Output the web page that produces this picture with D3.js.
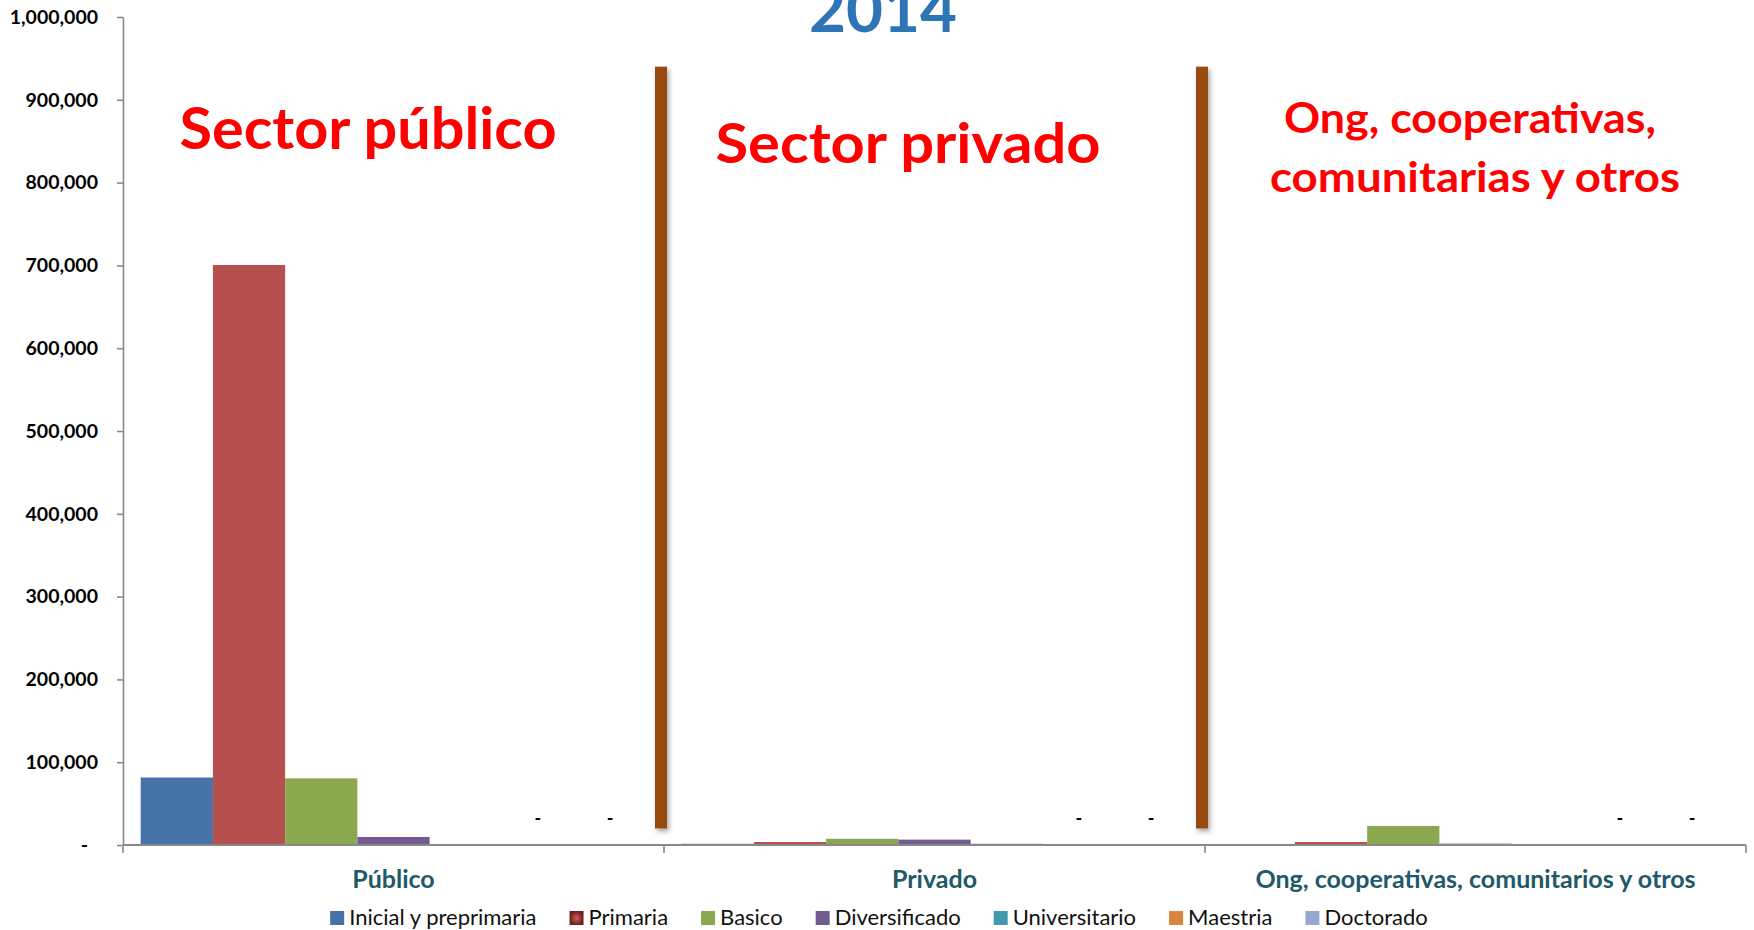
<!DOCTYPE html>
<html>
<head>
<meta charset="utf-8">
<script src="https://cdn.jsdelivr.net/npm/d3@7"></script>
<style>
  body { margin: 0; background: #fff; }
  text { font-family: Lato, "Liberation Sans", sans-serif; }
</style>
</head>
<body>
<script>
// chart data
var categories = ["Público", "Privado", "Ong, cooperativas, comunitarios y otros"];
var series = ["Inicial y preprimaria", "Primaria", "Basico", "Diversificado", "Universitario", "Maestria", "Doctorado"];
var colors = ["#4572A7", "#B5504F", "#8BA74F", "#725A93", "#4198AF", "#DB843D", "#93A9CF"];

// one array per series, one value per category (null = no value shown)
var inicial       = [81500, 1500, null];
var primaria      = [700500, 3600, 3600];
var basico        = [80500, 7500, 23000];
var diversificado = [9700, 6500, 1600];
var universitario = [null, 1500, null];
var maestria      = [0, 0, 0];
var doctorado     = [0, 0, 0];
var values = [inicial, primaria, basico, diversificado, universitario, maestria, doctorado];

var yTicks = [0, 100000, 200000, 300000, 400000, 500000, 600000, 700000, 800000, 900000, 1000000];

var W = 1754, H = 930;
var margin = {top: 17, right: 8, bottom: 85, left: 123};

var svg = d3.select("body").append("svg")
    .attr("width", W)
    .attr("height", H);

svg.append("rect").attr("width", W).attr("height", H).attr("fill", "#fff");

var defs = svg.append("defs");
var shadow = defs.append("filter").attr("id", "shadow")
    .attr("x", "-100%").attr("y", "-5%").attr("width", "300%").attr("height", "110%");
shadow.append("feDropShadow")
    .attr("dx", 2).attr("dy", 3).attr("stdDeviation", 2.5)
    .attr("flood-color", "#000").attr("flood-opacity", 0.35);

var grad = defs.append("radialGradient").attr("id", "primGrad");
grad.append("stop").attr("offset", "0%").attr("stop-color", "#D0605C");
grad.append("stop").attr("offset", "100%").attr("stop-color", "#6E1E1C");

// scales
var x0 = d3.scaleBand().domain(categories).range([margin.left, W - margin.right]);
var x1 = d3.scaleBand().domain(series).range([0, x0.bandwidth()]).paddingOuter(0.245);
var y = d3.scaleLinear().domain([0, 1000000]).range([H - margin.bottom, margin.top]);

// flatten data
var cells = [];
categories.forEach(function(c, i) {
  series.forEach(function(s, j) {
    cells.push({cat: c, ser: s, color: colors[j], v: values[j][i]});
  });
});

// bars
svg.append("g").selectAll("rect")
  .data(cells.filter(function(d) { return d.v; }))
  .enter().append("rect")
    .attr("x", function(d) { return x0(d.cat) + x1(d.ser); })
    .attr("y", function(d) { return y(d.v); })
    .attr("width", x1.bandwidth())
    .attr("height", function(d) { return y(0) - y(d.v); })
    .attr("fill", function(d) { return d.color; });

// "-" labels for zero values
svg.append("g").selectAll("text")
  .data(cells.filter(function(d) { return d.v === 0; }))
  .enter().append("text")
    .attr("x", function(d) { return x0(d.cat) + x1(d.ser) + x1.bandwidth() / 2; })
    .attr("y", y(0) - 27)
    .attr("text-anchor", "middle")
    .attr("dominant-baseline", "central")
    .style("font-size", "18px")
    .style("font-weight", "bold")
    .text("-");

// y axis
var yAxis = svg.append("g")
    .attr("transform", "translate(" + margin.left + ",0)")
    .call(d3.axisLeft(y)
      .tickValues(yTicks)
      .tickSize(6)
      .tickSizeOuter(0)
      .tickPadding(19)
      .tickFormat(function(d) { return d === 0 ? "-" : d3.format(",")(d); }));
yAxis.selectAll("line, path").attr("stroke", "#898989").attr("stroke-width", 1.6);
yAxis.selectAll("text")
    .attr("fill", "#000")
    .style("font-size", "19.5px")
    .style("font-weight", "bold");
yAxis.selectAll("text").filter(function(d) { return d === 0; }).attr("dx", -10);

// x axis (ticks at category boundaries)
var xAxis = svg.append("g");
xAxis.append("line")
    .attr("x1", x0.range()[0]).attr("x2", x0.range()[1])
    .attr("y1", y(0)).attr("y2", y(0))
    .attr("stroke", "#898989").attr("stroke-width", 2);
var bounds = categories.map(function(c) { return x0(c); }).concat([x0.range()[1]]);
xAxis.selectAll(".tick")
  .data(bounds)
  .enter().append("line")
    .attr("x1", function(d) { return d; }).attr("x2", function(d) { return d; })
    .attr("y1", y(0)).attr("y2", y(0) + 8)
    .attr("stroke", "#898989").attr("stroke-width", 1.6);
xAxis.selectAll(".cat")
  .data(categories)
  .enter().append("text")
    .attr("x", function(d) { return x0(d) + x0.bandwidth() / 2; })
    .attr("y", y(0) + 43)
    .attr("text-anchor", "middle")
    .attr("fill", "#215968")
    .style("font-size", "25px")
    .style("font-weight", "bold")
    .text(function(d) { return d; });

// brown separator bars
svg.append("g").selectAll("rect")
  .data(categories.slice(1))
  .enter().append("rect")
    .attr("x", function(d) { return x0(d) - 9; })
    .attr("y", y(940000))
    .attr("width", 12)
    .attr("height", y(20000) - y(940000))
    .attr("fill", "#984807")
    .attr("filter", "url(#shadow)");

// title
svg.append("text")
    .attr("x", 883).attr("y", 32)
    .attr("text-anchor", "middle")
    .attr("fill", "#2E75B6")
    .attr("textLength", 148).attr("lengthAdjust", "spacingAndGlyphs")
    .style("font-size", "64px").style("font-weight", "bold")
    .text("2014");

// sector annotations
var notes = [
  {t: "Sector público", x: 368, y: 149, size: 57, w: 377},
  {t: "Sector privado", x: 908, y: 163, size: 56, w: 385},
  {t: "Ong, cooperativas,", x: 1470, y: 133, size: 42, w: 372},
  {t: "comunitarias y otros", x: 1475, y: 192, size: 42, w: 410}
];
svg.append("g").selectAll("text")
  .data(notes)
  .enter().append("text")
    .attr("x", function(d) { return d.x; })
    .attr("y", function(d) { return d.y; })
    .attr("text-anchor", "middle")
    .attr("fill", "#FF0000")
    .attr("textLength", function(d) { return d.w; })
    .attr("lengthAdjust", "spacingAndGlyphs")
    .style("font-size", function(d) { return d.size + "px"; })
    .style("font-weight", "bold")
    .text(function(d) { return d.t; });

// legend
var legend = svg.append("g");
var items = legend.selectAll("g")
  .data(series)
  .enter().append("g");
items.append("rect")
    .attr("y", 911).attr("width", 14).attr("height", 14)
    .attr("fill", function(d, i) { return i === 1 ? "url(#primGrad)" : colors[i]; });
items.append("text")
    .attr("x", 19).attr("y", 925)
    .attr("fill", "#111")
    .style("font-size", "22px")
    .text(function(d) { return d; });
var pos = 0, offsets = [];
items.each(function() {
  offsets.push(pos);
  pos += 19 + d3.select(this).select("text").node().getComputedTextLength() + 33;
});
var total = pos - 33;
var start = W / 2 + 2 - total / 2;
items.attr("transform", function(d, i) { return "translate(" + (start + offsets[i]) + ",0)"; });
</script>
</body>
</html>
